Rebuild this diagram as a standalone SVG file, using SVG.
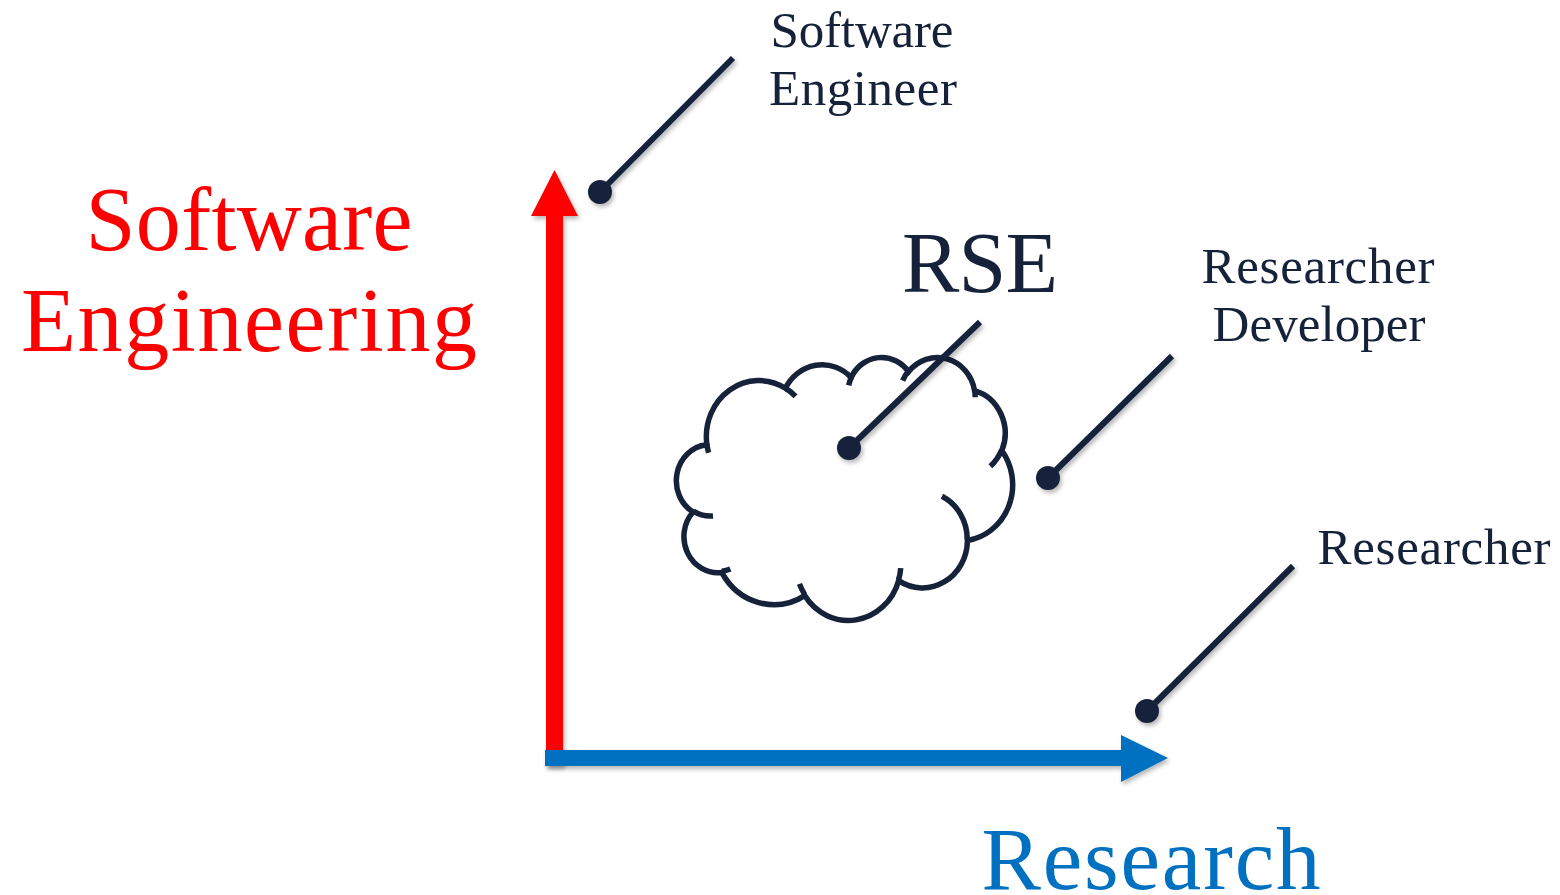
<svg xmlns="http://www.w3.org/2000/svg" width="1560" height="895" viewBox="0 0 1560 895">
  <defs>
    <filter id="shadow" x="-20%" y="-20%" width="140%" height="140%">
      <feDropShadow dx="2" dy="3" stdDeviation="2" flood-color="#000" flood-opacity="0.28"/>
    </filter>
  </defs>
  <style>
    .lbl { font-family: "Liberation Serif", "Times New Roman", serif; fill: #16213a; }
    .big { font-family: "Liberation Serif", "Times New Roman", serif; }
    .callout { stroke: #16213a; stroke-width: 6; fill: none; }
    .dot { fill: #16213a; }
    .cloud { stroke: #16213a; stroke-width: 5.5; }
  </style>
  <rect width="1560" height="895" fill="#ffffff"/>

  <g id="axis-software-engineering" filter="url(#shadow)">
    <polygon points="546,766 546,216 531,216 554.5,170 578,216 563,216 563,766" fill="#ff0000"/>
  </g>
  <g id="axis-research" filter="url(#shadow)">
    <polygon points="545,750 1121,750 1121,735 1168,758 1121,782 1121,766 545,766" fill="#0070c0"/>
  </g>

  <g id="cloud" transform="translate(676.5,356.6) scale(0.007778,0.006086)">
    <path class="cloud" vector-effect="non-scaling-stroke" fill="#ffffff" d="M 3900 14370 A 6753 9190 0 0 1 14005.6 5202.5 A 5333 7267 0 0 1 22456.8 3432.3 A 4365 5945 0 0 1 29834.4 2482.0 A 4857 6595 0 0 1 38319.6 5577.2 A 5333 7273 0 0 1 41820.1 15461.1 A 6775 9220 0 0 1 37404.9 30202.1 A 5785 7867 0 0 1 28556.4 36812.2 A 6752 9215 0 0 1 16481.7 39266.0 A 7720 10543 0 0 1 5820.5 35458.5 A 4360 5918 0 0 1 2127.9 25538.8 A 4345 5945 0 0 1 3878.0 14495.4 Z"/>
    <path class="cloud" vector-effect="non-scaling-stroke" fill="none" d="M 4693 26177 A 4345 5945 0 0 1 2159.8 25379.8 M 6928 34899 A 4360 5918 0 0 1 5819.5 35280.5 M 16478 39090 A 6752 9215 0 0 1 15809.3 37348.2 M 28827 34751 A 6752 9215 0 0 1 28560.5 36659.3 M 34129 22954 A 5785 7867 0 0 1 37380.8 30089.9 M 41798 15354 A 5333 7273 0 0 1 40349.7 18030.2 M 38324 5426 A 4857 6595 0 0 1 38400.4 6689.5 M 29078 3952 A 4857 6595 0 0 1 29819.9 2339.9 M 22141 4720 A 4365 5945 0 0 1 22500.2 3329.8 M 14000 5192 A 6753 9190 0 0 1 15300.1 6540.9 M 4127 15789 A 6753 9190 0 0 1 3900.4 14371.4"/>
  </g>

  <g id="connectors" filter="url(#shadow)">
    <line class="callout" x1="733" y1="58" x2="600" y2="192"/>
    <circle class="dot" cx="600" cy="192" r="12"/>
    <line class="callout" x1="980" y1="322" x2="849" y2="448"/>
    <circle class="dot" cx="849" cy="448" r="12"/>
    <line class="callout" x1="1172" y1="356" x2="1048" y2="478"/>
    <circle class="dot" cx="1048" cy="478" r="12"/>
    <line class="callout" x1="1293" y1="566" x2="1147" y2="711"/>
    <circle class="dot" cx="1147" cy="711" r="12"/>
  </g>

  <g id="label-software-engineering">
    <text class="big" fill="#ff0000" font-size="90" text-anchor="middle" x="249" y="250" textLength="327">Software</text>
    <text class="big" fill="#ff0000" font-size="90" text-anchor="middle" x="249" y="351" textLength="456">Engineering</text>
  </g>
  <g id="label-research">
    <text class="big" fill="#0070c0" font-size="89" text-anchor="middle" x="1151" y="889" textLength="339">Research</text>
  </g>
  <g id="label-rse">
    <text class="lbl" font-size="86" text-anchor="middle" x="980" y="292" textLength="156">RSE</text>
  </g>
  <g id="label-software-engineer">
    <text class="lbl" font-size="51" text-anchor="middle" x="862" y="47" textLength="183">Software</text>
    <text class="lbl" font-size="51" text-anchor="middle" x="863" y="105" textLength="188">Engineer</text>
  </g>
  <g id="label-researcher-developer">
    <text class="lbl" font-size="51" text-anchor="middle" x="1318" y="283" textLength="233">Researcher</text>
    <text class="lbl" font-size="51" text-anchor="middle" x="1319" y="341" textLength="213">Developer</text>
  </g>
  <g id="label-researcher">
    <text class="lbl" font-size="51" text-anchor="middle" x="1434" y="564" textLength="233">Researcher</text>
  </g>
</svg>
